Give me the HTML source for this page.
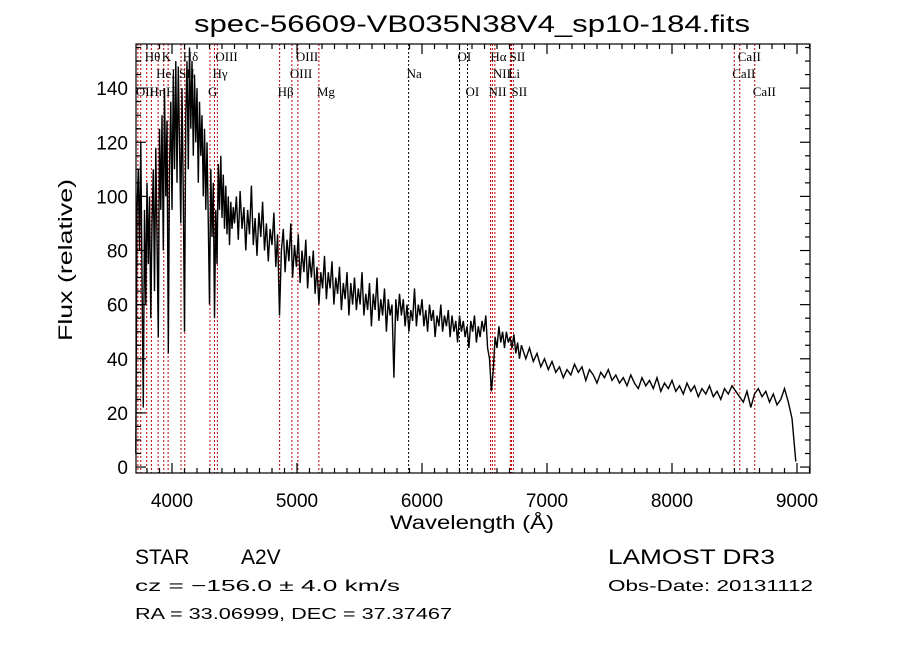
<!DOCTYPE html>
<html><head><meta charset="utf-8">
<style>
html,body{margin:0;padding:0;background:#fff;}
svg{display:block;}
text{font-family:"Liberation Sans",sans-serif;fill:#000;}
.ser{font-family:"Liberation Serif",serif;}
</style></head>
<body>
<svg id="chart" width="900" height="649" viewBox="0 0 900 649" xmlns="http://www.w3.org/2000/svg">
<rect width="900" height="649" fill="#fff"/>
<text x="472" y="32" font-size="24" text-anchor="middle" textLength="556" lengthAdjust="spacingAndGlyphs">spec-56609-VB035N38V4_sp10-184.fits</text>
<g id="lines"></g>
<g id="labels"></g>
<path id="spec" fill="none" stroke="#000" stroke-width="1.4"/>
<rect x="136" y="44" width="674" height="429" fill="none" stroke="#000" stroke-width="1.2"/>
<g id="ticks"></g>
<text x="472" y="529" font-size="19" text-anchor="middle" textLength="164" lengthAdjust="spacingAndGlyphs">Wavelength (Å)</text>
<text transform="translate(72,260) rotate(-90)" font-size="19" text-anchor="middle" textLength="162" lengthAdjust="spacingAndGlyphs">Flux (relative)</text>
<text x="135" y="564" font-size="21">STAR</text>
<text x="241" y="564" font-size="21">A2V</text>
<text x="608" y="564" font-size="21" textLength="167" lengthAdjust="spacingAndGlyphs">LAMOST DR3</text>
<text x="135" y="591" font-size="16" textLength="265" lengthAdjust="spacingAndGlyphs">cz = −156.0 ± 4.0 km/s</text>
<text x="608" y="591" font-size="16" textLength="205" lengthAdjust="spacingAndGlyphs">Obs-Date: 20131112</text>
<text x="135" y="619" font-size="16" textLength="317" lengthAdjust="spacingAndGlyphs">RA =  33.06999, DEC =  37.37467</text>
</svg>
<script>
const wave = [3710,3720,3730,3740,3750,3760,3770,3780,3790,3800,3810,3820,3830,3840,3850,3860,3870,3880,3890,3900,3910,3920,3930,3940,3950,3960,3970,3980,3990,4000,4010,4020,4030,4040,4050,4060,4070,4080,4090,4100,4110,4120,4130,4140,4150,4160,4170,4180,4190,4200,4210,4220,4230,4240,4250,4260,4270,4280,4290,4300,4310,4320,4330,4340,4350,4360,4370,4380,4390,4400,4410,4420,4430,4440,4450,4460,4470,4480,4490,
4500,4515,4530,4545,4560,4575,4590,4605,4620,4635,4650,4665,4680,4695,4710,4725,4740,4755,4770,4785,4800,4815,4830,4845,4860,4875,4890,4905,4920,4935,4950,4965,4980,4995,5010,5025,5040,5055,5070,5085,5100,5115,5130,5145,5160,5175,5190,5205,5220,5235,5250,5265,5280,5295,5310,5325,5340,5355,5370,5385,5400,5415,5430,5445,5460,5475,5490,5505,5520,5535,5550,5565,5580,5595,5610,5625,5640,5655,5670,5685,5700,5715,5730,5745,5760,5775,5790,5805,5820,5835,5850,5865,5880,5895,5910,5925,5940,5955,5970,5985,6000,6015,6030,6045,6060,6075,6090,6105,6120,6135,6150,6165,6180,6195,6210,6225,6240,6255,6270,6285,6300,6315,6330,6345,6360,6375,6390,6405,6420,6435,6450,6465,6480,6495,6510,6525,6540,6555,6570,6585,6600,6615,6630,6645,6660,6675,6690,6705,6720,6735,6750,6765,6780,6795,
6830,6860,6890,6920,6950,6980,7010,7040,7070,7100,7130,7160,7190,7220,7250,7280,7310,7340,7370,7400,7430,7460,7490,7520,7550,7580,7610,7640,7670,7700,7730,7760,7790,7820,7850,7880,7910,7940,7970,8000,8030,8060,8090,8120,8150,8180,8210,8240,8270,8300,8330,8360,8390,8420,8450,8480,8510,8540,8570,8600,8630,8660,8690,8720,8750,8780,8810,8840,8870,8900,8930,8960,8990];
const flux = [5,95,110,80,120,70,22,95,60,105,75,100,55,90,110,65,118,85,48,125,95,130,80,140,100,128,42,110,135,95,145,110,150,105,148,120,90,140,100,50,130,150,110,155,125,150,115,145,120,140,105,135,115,130,100,125,95,120,90,60,110,85,105,55,95,75,112,95,115,92,108,88,104,86,100,82,98,88,96,
90,100,84,102,88,96,80,95,86,104,82,92,78,94,85,98,80,90,76,88,82,94,74,86,56,80,88,72,84,76,90,70,82,74,86,68,80,72,84,66,78,70,80,64,74,60,72,66,78,62,72,66,76,60,70,64,74,58,68,62,72,56,68,60,70,58,66,60,72,56,64,58,68,52,64,58,70,54,62,56,66,50,62,56,60,33,62,54,64,56,62,52,60,50,58,54,66,52,60,56,62,52,58,50,60,54,58,48,56,52,60,50,56,52,58,48,56,50,54,46,56,50,54,48,52,44,54,50,56,46,52,48,54,50,56,44,40,28,36,48,44,52,46,50,44,50,46,48,44,49,42,46,40,45,
40,44,39,42,37,40,36,39,35,37,33,36,34,38,35,37,32,36,34,31,35,33,36,32,34,31,33,30,34,31,29,33,30,32,29,33,28,31,29,32,28,30,27,31,28,30,26,29,27,30,26,28,25,29,27,30,28,26,24,28,22,27,29,26,28,24,27,23,25,29,24,18,2];
const lineWaves = [3727,3750,3798,3835,3889,3934,3969,4072,4102,4304,4340,4363,4861,4959,5007,5175,5893,6300,6364,6548,6563,6583,6707,6716,6731,8498,8542,8662];
const lineNames = ["OII","","Hθ","Hη","HeI","K","H","SII","Hδ","G","Hγ","OIII","Hβ","OIII","OIII","Mg","Na","OI","OI","NII","Hα","NII","Li","SII","SII","CaII","CaII","CaII"];
const lineRows = [2,0,0,2,1,0,2,1,0,2,1,0,2,1,0,2,1,0,2,2,0,1,1,0,2,1,0,2];
const lineBlack = [0,0,0,0,0,0,0,0,0,0,0,0,0,0,0,0,1,1,1,0,0,0,0,0,0,0,0,0];
const xTicks = [4000,5000,6000,7000,8000,9000];
const yTicks = [0,20,40,60,80,100,120,140];

const NS="http://www.w3.org/2000/svg";
const X0=136,X1=810,Y0=44,Y1=473;
const WMIN=3712,WMAX=9104,FMIN=-2.2,FMAX=156.3;
function xs(w){return X0+(w-WMIN)/(WMAX-WMIN)*(X1-X0);}
function ys(f){return Y1-(f-FMIN)/(FMAX-FMIN)*(Y1-Y0);}
function clampY(y){return Math.max(Y0,Math.min(Y1,y));}

let d="";
const n=Math.min(wave.length,flux.length);
for(let i=0;i<n;i++){d+=(i?"L":"M")+xs(wave[i]).toFixed(1)+","+clampY(ys(flux[i])).toFixed(1);}
const sp=document.getElementById("spec");
sp.setAttribute("d",d);

const lg=document.getElementById("lines"), lb=document.getElementById("labels");
const rowY=[61,78,96];
for(let i=0;i<lineWaves.length;i++){
  const x=xs(lineWaves[i]);
  const l=document.createElementNS(NS,"line");
  
  
  l.setAttribute("x1",x);l.setAttribute("x2",x);l.setAttribute("y1",Y0);l.setAttribute("y2",Y1);
  l.setAttribute("stroke",lineBlack[i]?"#000":"#c00000");l.setAttribute("stroke-width","1");l.setAttribute("stroke-dasharray","2,2");
  lg.appendChild(l);
  if(lineNames[i]){
    const t=document.createElementNS(NS,"text");
    
    
    t.setAttribute("x",x-2);t.setAttribute("y",rowY[lineRows[i]]);
    t.setAttribute("font-size","13");t.setAttribute("class","ser");
    t.textContent=lineNames[i];
    lb.appendChild(t);
  }
}

const tg=document.getElementById("ticks");
function tick(x1,y1,x2,y2){
  const l=document.createElementNS(NS,"line");
  
  
  l.setAttribute("x1",x1);l.setAttribute("y1",y1);l.setAttribute("x2",x2);l.setAttribute("y2",y2);
  l.setAttribute("stroke","#000");l.setAttribute("stroke-width","1.2");
  tg.appendChild(l);
}
for(let w=3800;w<=9100;w+=100){
  const x=xs(w); const major=(w%1000===0); const L=major?10:5;
  tick(x,Y1,x,Y1-L); tick(x,Y0,x,Y0+L);
}
for(let f=0;f<=155;f+=5){
  const y=ys(f); const major=(f%20===0); const L=major?10:5;
  tick(X0,y,X0+L,y); tick(X1,y,X1-L,y);
}
xTicks.forEach(w=>{
  const t=document.createElementNS(NS,"text");
  
  
  t.setAttribute("x",xs(w));t.setAttribute("y",507);t.setAttribute("font-size","19");t.setAttribute("text-anchor","middle");
  t.textContent=w; tg.appendChild(t);
});
yTicks.forEach(f=>{
  const t=document.createElementNS(NS,"text");
  
  
  t.setAttribute("x",128);t.setAttribute("y",ys(f)+7);t.setAttribute("font-size","19");t.setAttribute("text-anchor","end");
  t.textContent=f; tg.appendChild(t);
});
</script>
</body></html>
